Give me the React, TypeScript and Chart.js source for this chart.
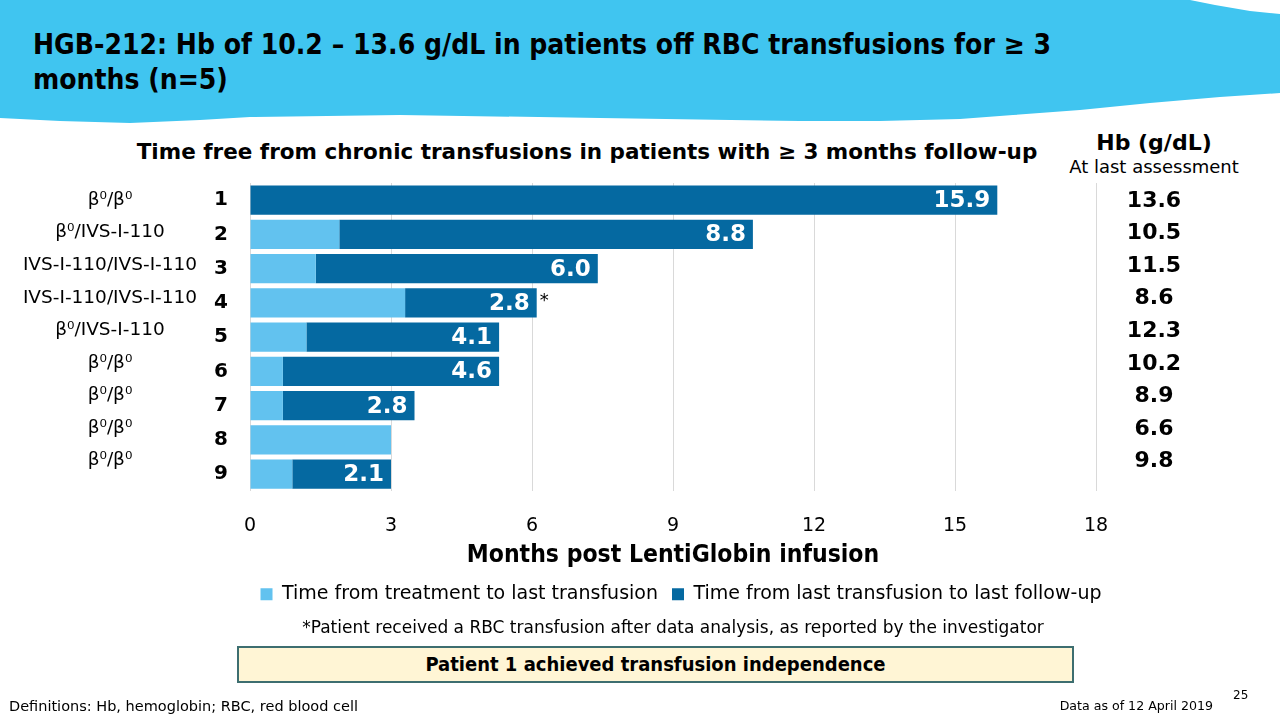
import React, { useEffect, useRef } from 'react';
import { Chart, registerables } from 'chart.js';

Chart.register(...registerables);

// ---------- data ----------
const patients = ['1', '2', '3', '4', '5', '6', '7', '8', '9'];
const genotypes = [
  'β⁰/β⁰',
  'β⁰/IVS-I-110',
  'IVS-I-110/IVS-I-110',
  'IVS-I-110/IVS-I-110',
  'β⁰/IVS-I-110',
  'β⁰/β⁰',
  'β⁰/β⁰',
  'β⁰/β⁰',
  'β⁰/β⁰',
];
const toLastTransfusion = [0, 1.9, 1.4, 3.3, 1.2, 0.7, 0.7, 3.0, 0.9];
const transfusionFree = [15.9, 8.8, 6.0, 2.8, 4.1, 4.6, 2.8, null, 2.1];
const hbLastAssessment = ['13.6', '10.5', '11.5', '8.6', '12.3', '10.2', '8.9', '6.6', '9.8'];
const xTickValues = [0, 3, 6, 9, 12, 15, 18];
const asteriskPatients = ['4'];
const seriesNames = ['Time from treatment to last transfusion', 'Time from last transfusion to last follow-up'];

const LIGHT = '#62C2EF';
const DARK = '#0569A1';
const FONT = "'DejaVu Sans', sans-serif";
const FONT_C = "'DejaVu Sans Condensed', 'DejaVu Sans', sans-serif";

const sideTextPlugin = {
  id: 'sideText',
  afterDatasetsDraw(chart: any) {
    const { ctx } = chart;
    const yScale = chart.scales.y;
    // values inside the dark bars
    const meta = chart.getDatasetMeta(1);
    ctx.save();
    ctx.textBaseline = 'middle';
    meta.data.forEach((bar: any, i: number) => {
      const v = transfusionFree[i];
      if (v == null) return;
      ctx.font = `bold 23px ${FONT}`;
      ctx.fillStyle = '#FFFFFF';
      ctx.textAlign = 'right';
      ctx.fillText(v.toFixed(1), bar.x - 7, bar.y + 1);
      if (asteriskPatients.includes(patients[i])) {
        ctx.font = `18px ${FONT}`;
        ctx.fillStyle = '#000000';
        ctx.textAlign = 'left';
        ctx.fillText('*', bar.x + 3, bar.y - 2);
      }
    });
    // genotype column & Hb column (rows in the side columns are set slightly tighter than the bars)
    const y0 = yScale.getPixelForValue(0);
    const rowStep = (yScale.getPixelForValue(1) - y0) * 0.95;
    genotypes.forEach((g, i) => {
      const y = y0 + i * rowStep;
      ctx.font = `18.5px ${FONT}`;
      ctx.fillStyle = '#000000';
      ctx.textAlign = 'center';
      ctx.fillText(g, 110, y);
      ctx.font = `bold 22px ${FONT}`;
      ctx.fillText(hbLastAssessment[i], 1154, y + 1);
    });
    ctx.restore();
  },
};

function BarChart() {
  const ref = useRef<HTMLCanvasElement>(null);
  useEffect(() => {
    if (!ref.current) return;
    const chart = new Chart(ref.current, {
      type: 'bar',
      data: {
        labels: patients,
        datasets: [
          {
            label: seriesNames[0],
            data: toLastTransfusion,
            backgroundColor: LIGHT,
            barPercentage: 0.85,
            categoryPercentage: 1,
          },
          {
            label: seriesNames[1],
            data: transfusionFree as any,
            backgroundColor: DARK,
            barPercentage: 0.85,
            categoryPercentage: 1,
          },
        ],
      },
      options: {
        indexAxis: 'y',
        responsive: false,
        animation: false,
        layout: { padding: { left: 210, right: 128, top: 183, bottom: 106.2 } },
        scales: {
          x: {
            stacked: true,
            min: 0,
            max: 18,
            afterBuildTicks: (s: any) => {
              s.ticks = xTickValues.map((v) => ({ value: v }));
            },
            afterFit: (s: any) => {
              s.height = 79.5;
            },
            ticks: { font: { family: FONT, size: 19 }, color: '#000', padding: 23 },
            grid: { color: '#D9D9D9', drawTicks: false, lineWidth: 1 },
            border: { display: false },
            title: {
              display: true,
              text: 'Months post LentiGlobin infusion',
              font: { family: FONT_C, size: 24.5, weight: 'bold' },
              color: '#000',
              padding: { top: 5, bottom: 0 },
            },
          },
          y: {
            stacked: true,
            grid: { display: false },
            border: { display: false },
            ticks: { font: { family: FONT, size: 20, weight: 'bold' }, color: '#000', padding: 14 },
            afterFit: (s: any) => {
              s.width = 40;
            },
          },
          ySide: {
            type: 'category',
            position: 'right',
            grid: { display: false },
            border: { display: false },
            ticks: { display: false },
            afterFit: (s: any) => {
              s.width = 56;
            },
          },
        },
        plugins: {
          legend: {
            position: 'bottom',
            labels: {
              font: { family: FONT, size: 19 },
              color: '#000',
              boxWidth: 12,
              boxHeight: 12,
              padding: 14,
            },
          },
          tooltip: { enabled: false },
        },
      } as any,
      plugins: [sideTextPlugin],
    });
    return () => chart.destroy();
  }, []);
  return <canvas ref={ref} width={1280} height={720} style={{ position: 'absolute', left: 0, top: 0 }} />;
}

const abs = (s: React.CSSProperties): React.CSSProperties => ({
  position: 'absolute',
  fontFamily: FONT,
  color: '#000',
  whiteSpace: 'nowrap',
  margin: 0,
  ...s,
});

export default function App() {
  return (
    <div
      style={{
        position: 'absolute',
        left: 0,
        top: 0,
        width: 1280,
        height: 720,
        overflow: 'hidden',
        background: '#FFFFFF',
      }}
    >
      <svg width={1280} height={130} style={{ position: 'absolute', left: 0, top: 0 }}>
        <path
          d="M0,0 L1190,0 L1215,5 L1250,11 L1280,14 L1280,93 L1220,97 L1150,103 L1080,110 L1013,115 L960,119 L880,121 L800,121 L600,118 L400,115 L250,117 L200,120 L130,123 L60,121 L0,118 Z"
          fill="#40C5F0"
        />
      </svg>
      <div style={abs({ left: 33, top: 27, fontFamily: FONT_C, fontSize: 28, fontWeight: 'bold', lineHeight: '35px' })}>
        HGB-212: Hb of 10.2 – 13.6 g/dL in patients off RBC transfusions for ≥ 3
        <br />
        months (n=5)
      </div>
      <div style={abs({ left: 0, width: 1174, top: 138, textAlign: 'center', fontSize: 21.5, fontWeight: 'bold', lineHeight: '28px' })}>
        Time free from chronic transfusions in patients with ≥ 3 months follow-up
      </div>
      <div style={abs({ left: 1054, width: 200, top: 129, textAlign: 'center', fontSize: 22, fontWeight: 'bold', lineHeight: '28px' })}>
        Hb (g/dL)
      </div>
      <div style={abs({ left: 1054, width: 200, top: 156, textAlign: 'center', fontSize: 18, lineHeight: '22px' })}>
        At last assessment
      </div>
      <BarChart />
      <div style={abs({ left: 0, width: 1346, top: 616, textAlign: 'center', fontSize: 17, lineHeight: '22px' })}>
        *Patient received a RBC transfusion after data analysis, as reported by the investigator
      </div>
      <div
        style={abs({
          left: 237,
          top: 646,
          width: 837,
          height: 37,
          boxSizing: 'border-box',
          border: '2px solid #3D6E70',
          background: '#FFF5D5',
          textAlign: 'center',
          fontFamily: FONT_C,
          fontSize: 20,
          fontWeight: 'bold',
          lineHeight: '33px',
        })}
      >
        Patient 1 achieved transfusion independence
      </div>
      <div style={abs({ left: 9, top: 697, fontSize: 14.5, lineHeight: '18px' })}>
        Definitions: Hb, hemoglobin; RBC, red blood cell
      </div>
      <div style={abs({ right: 1280 - 1213, top: 697, fontSize: 12.6, lineHeight: '18px', textAlign: 'right' })}>
        Data as of 12 April 2019
      </div>
      <div style={abs({ left: 1233, top: 687, fontSize: 12, lineHeight: '16px' })}>25</div>
    </div>
  );
}
